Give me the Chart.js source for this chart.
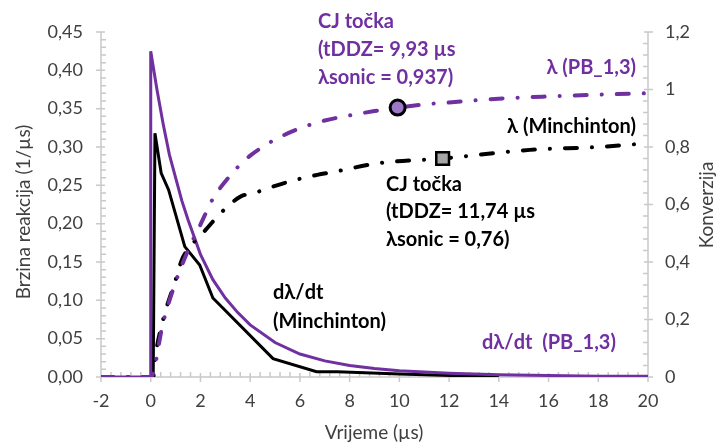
<!DOCTYPE html>
<html lang="hr">
<head>
<meta charset="UTF-8">
<title>Brzina reakcije i konverzija</title>
<script src="https://cdn.jsdelivr.net/npm/chart.js"></script>
<style>
  html, body { margin: 0; padding: 0; background: #fff; }
  #wrap { width: 717px; height: 446px; position: relative; }
</style>
</head>
<body>
<div id="wrap"><canvas id="chart"></canvas></div>
<script>
// dλ/dt (PB_1,3) - lijeva os
const rateX_PB = [-2, 0, 0, 0.25, 0.5, 0.75, 1, 1.25, 1.5, 2, 2.5, 3, 3.5, 4, 5, 6, 7, 8, 9, 10, 12, 14, 16, 18, 20];
const rateY_PB = [0, 0, 0.425, 0.375, 0.33, 0.29, 0.26, 0.23, 0.205, 0.16, 0.127, 0.103, 0.084, 0.068, 0.045, 0.03, 0.021, 0.015, 0.011, 0.008, 0.005, 0.003, 0.002, 0.001, 0.001];

// dλ/dt (Minchinton) - lijeva os
const rateX_M = [0.1, 0.17, 0.42, 0.72, 1.37, 1.97, 2.5, 4.92, 6.67, 7.5, 10, 14];
const rateY_M = [0, 0.318, 0.266, 0.244, 0.17, 0.146, 0.103, 0.024, 0.007, 0.007, 0.004, 0];

// λ (PB_1,3) - desna os
const lamX_PB = [-2, 0, 0.5, 1, 1.5, 2, 2.5, 3, 3.5, 4, 4.5, 5, 6, 7, 8, 9, 9.93, 11, 12, 14, 16, 18, 20];
const lamY_PB = [0, 0, 0.19, 0.33, 0.44, 0.53, 0.62, 0.68, 0.73, 0.77, 0.8, 0.826, 0.865, 0.892, 0.91, 0.925, 0.937, 0.948, 0.955, 0.968, 0.976, 0.982, 0.987];

// λ (Minchinton) - desna os
const lamX_M = [-2, 0.1, 0.17, 0.5, 1, 1.25, 1.7, 2.2, 2.8, 3.6, 4.2, 4.9, 5.8, 6.7, 7.4, 9.1, 11.74, 15.25, 18, 20];
const lamY_M = [0, 0, 0.06, 0.2, 0.337, 0.407, 0.465, 0.511, 0.569, 0.627, 0.641, 0.662, 0.685, 0.703, 0.714, 0.743, 0.76, 0.79, 0.8, 0.813];

// CJ točke
const cjPB = { x: 9.93, y: 0.937 };
const cjM = { x: 11.74, y: 0.76 };

const PURPLE = '#7030A0';
const AXIS = '#C9C9C9';
const TXT = '#404040';
const FONT = 'Lato';

const pts = (xs, ys) => xs.map((x, i) => ({ x, y: ys[i] }));
const fmt = v => String(Math.round(v * 100) / 100).replace('.', ',');

// osi, crtice i tekstovi
const decor = {
  id: 'decor',
  beforeDatasetsDraw(chart) {
    const { ctx, chartArea: a, scales } = chart;
    ctx.save();
    ctx.strokeStyle = AXIS;
    ctx.lineWidth = 1.5;
    ctx.beginPath();
    ctx.moveTo(a.left, a.top); ctx.lineTo(a.left, a.bottom);
    ctx.moveTo(a.right, a.top); ctx.lineTo(a.right, a.bottom);
    ctx.moveTo(a.left, a.bottom); ctx.lineTo(a.right, a.bottom);
    // lijeva os: 0.01 korak, glavne svakih 0.05
    for (let i = 0; i <= 45; i++) {
      const y = scales.y.getPixelForValue(i * 0.01);
      if (i % 5 === 0) { ctx.moveTo(a.left - 5, y); ctx.lineTo(a.left + 4, y); }
      else { ctx.moveTo(a.left, y); ctx.lineTo(a.left + 5, y); }
    }
    // desna os: 0.04 korak, glavne svakih 0.2
    for (let i = 0; i <= 30; i++) {
      const y = scales.y2.getPixelForValue(i * 0.04);
      if (i % 5 === 0) { ctx.moveTo(a.right - 4, y); ctx.lineTo(a.right + 5, y); }
      else { ctx.moveTo(a.right - 5, y); ctx.lineTo(a.right, y); }
    }
    // x os: 0.4 korak, glavne svakih 2
    for (let i = 0; i <= 55; i++) {
      const x = scales.x.getPixelForValue(-2 + i * 0.4);
      if (i % 5 === 0) { ctx.moveTo(x, a.bottom - 4); ctx.lineTo(x, a.bottom + 5); }
      else { ctx.moveTo(x, a.bottom - 5); ctx.lineTo(x, a.bottom); }
    }
    ctx.stroke();
    ctx.restore();
  },
  afterDraw(chart) {
    const { ctx } = chart;
    ctx.save();
    ctx.textBaseline = 'middle';

    // naslovi osi
    ctx.fillStyle = TXT;
    ctx.font = '19px ' + FONT;
    ctx.textAlign = 'center';
    ctx.fillText('Vrijeme (µs)', 374, 433);
    ctx.save();
    ctx.translate(24, 212); ctx.rotate(-Math.PI / 2);
    ctx.fillText('Brzina reakcija (1/µs)', 0, 0);
    ctx.restore();
    ctx.save();
    ctx.translate(707, 205); ctx.rotate(-Math.PI / 2);
    ctx.fillText('Konverzija', 0, 0);
    ctx.restore();

    ctx.font = 'bold 20px ' + FONT;
    ctx.textAlign = 'left';
    ctx.fillStyle = PURPLE;
    ctx.fillText('CJ točka', 318, 22);
    ctx.fillText('(tDDZ= 9,93 µs', 318, 50);
    ctx.fillText('λsonic = 0,937)', 318, 78);
    ctx.fillText('dλ/dt  (PB_1,3)', 482, 343);
    ctx.textAlign = 'right';
    ctx.fillText('λ (PB_1,3)', 636, 68);

    ctx.fillStyle = '#000';
    ctx.fillText('λ (Minchinton)', 636, 127);
    ctx.textAlign = 'left';
    ctx.fillText('CJ točka', 386, 185);
    ctx.fillText('(tDDZ= 11,74 µs', 386, 212);
    ctx.fillText('λsonic = 0,76)', 386, 240);
    ctx.fillText('dλ/dt', 273, 293);
    ctx.fillText('(Minchinton)', 273, 322);
    ctx.restore();
  }
};

const dashDot = [12, 15, 0.1, 15];

new Chart(document.getElementById('chart'), {
  type: 'line',
  data: {
    datasets: [
      {
        label: 'CJ PB_1,3',
        data: [cjPB],
        yAxisID: 'y2',
        showLine: false,
        pointRadius: 7.5,
        pointBorderWidth: 3,
        pointBackgroundColor: '#9C78C6',
        pointBorderColor: '#000'
      },
      {
        label: 'CJ Minchinton',
        data: [cjM],
        yAxisID: 'y2',
        showLine: false,
        pointStyle: 'rect',
        pointRadius: 9,
        pointBorderWidth: 2.5,
        pointBackgroundColor: '#A6A6A6',
        pointBorderColor: '#000'
      },
      {
        label: 'λ (PB_1,3)',
        data: pts(lamX_PB, lamY_PB),
        yAxisID: 'y2',
        borderColor: PURPLE,
        borderWidth: 4,
        borderDash: dashDot,
        borderCapStyle: 'round',
        cubicInterpolationMode: 'monotone',
        pointRadius: 0
      },
      {
        label: 'λ (Minchinton)',
        data: pts(lamX_M, lamY_M),
        yAxisID: 'y2',
        borderColor: '#000',
        borderWidth: 4,
        borderDash: dashDot,
        borderCapStyle: 'round',
        cubicInterpolationMode: 'monotone',
        pointRadius: 0
      },
      {
        label: 'dλ/dt (PB_1,3)',
        data: pts(rateX_PB, rateY_PB),
        yAxisID: 'y',
        borderColor: PURPLE,
        borderWidth: 3,
        tension: 0,
        pointRadius: 0
      },
      {
        label: 'dλ/dt (Minchinton)',
        data: pts(rateX_M, rateY_M),
        yAxisID: 'y',
        borderColor: '#000',
        borderWidth: 3,
        tension: 0,
        pointRadius: 0
      }
    ]
  },
  options: {
    responsive: true,
    maintainAspectRatio: false,
    animation: false,
    layout: { padding: { top: 32, left: 0, right: 0, bottom: 0 } },
    plugins: { legend: { display: false }, tooltip: { enabled: false } },
    scales: {
      x: {
        type: 'linear',
        min: -2, max: 20,
        grid: { display: false, drawTicks: false },
        border: { display: false },
        ticks: { stepSize: 2, padding: 13, color: TXT, font: { family: FONT, size: 18 }, maxRotation: 0 },
        afterFit: s => { s.height = 69; }
      },
      y: {
        position: 'left',
        min: 0, max: 0.45,
        grid: { display: false, drawTicks: false },
        border: { display: false },
        ticks: { stepSize: 0.05, padding: 18, color: TXT, font: { family: FONT, size: 18 }, callback: v => v.toFixed(2).replace('.', ',') },
        afterFit: s => { s.width = 101; }
      },
      y2: {
        position: 'right',
        min: 0, max: 1.2,
        grid: { display: false, drawTicks: false },
        border: { display: false },
        ticks: { stepSize: 0.2, padding: 17, color: TXT, font: { family: FONT, size: 18 }, callback: v => fmt(v) },
        afterFit: s => { s.width = 69; }
      }
    }
  },
  plugins: [decor]
});
</script>
</body>
</html>
